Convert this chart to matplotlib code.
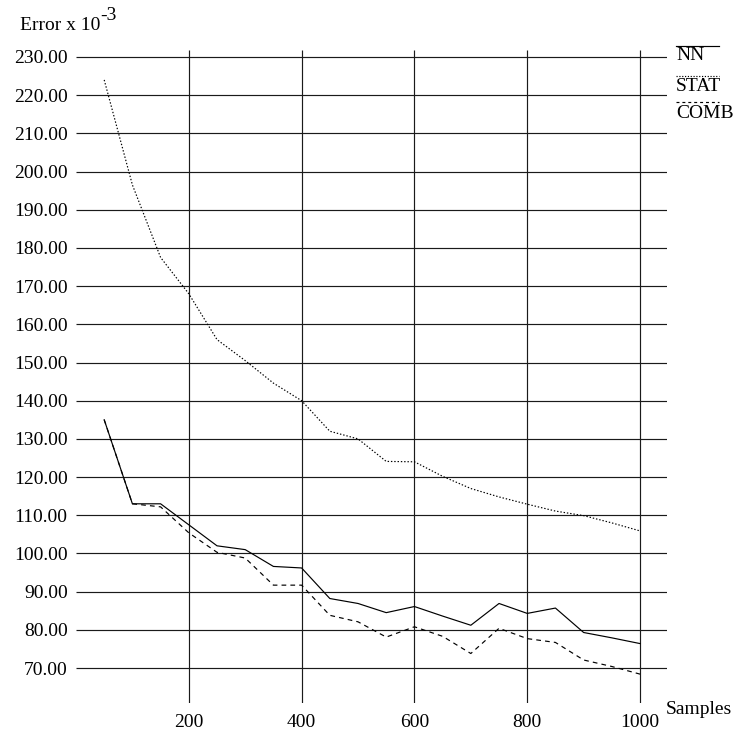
import matplotlib
matplotlib.use("Agg")
import matplotlib.pyplot as plt
from matplotlib.lines import Line2D

plt.rcParams['font.family'] = ['Liberation Serif', 'DejaVu Serif']

# data
samples = [50, 100, 150, 200, 250, 300, 350, 400, 450, 500,
           550, 600, 650, 700, 750, 800, 850, 900, 950, 1000]
nn = [135.0, 113.0, 113.0, 107.5, 102.0, 101.0, 96.6, 96.2, 88.2, 86.9,
      84.5, 86.1, 83.6, 81.2, 86.9, 84.3, 85.7, 79.3, 77.9, 76.4]
stat = [224.0, 196.5, 177.5, 168.0, 156.0, 150.5, 144.6, 140.0, 132.0, 130.0,
        124.1, 124.0, 120.2, 117.0, 114.8, 112.9, 111.1, 109.9, 108.0, 105.9]
comb = [135.0, 113.0, 112.2, 105.4, 100.3, 98.8, 91.7, 91.7, 83.8, 82.1,
        78.1, 80.8, 78.3, 73.8, 80.4, 77.7, 76.7, 72.1, 70.4, 68.4]

yticks = [70, 80, 90, 100, 110, 120, 130, 140, 150, 160,
          170, 180, 190, 200, 210, 220, 230]
xticks = [200, 400, 600, 800, 1000]
legend_names = ['NN', 'STAT', 'COMB']

W = H = 733
fig = plt.figure(figsize=(7.33, 7.33), dpi=100)
ax = fig.add_axes([76 / W, 1 - 703 / H, 591 / W, 653 / H])
ax.set_xlim(0, 1047.8)
ax.set_ylim(60.84, 231.83)

# grid
ax.hlines(yticks, 0, 1047.8, color='#1a1a1a', lw=0.85)
ax.vlines(xticks, 60.84, 231.83, color='#1a1a1a', lw=0.85)

# series
ax.plot(samples, nn, color='black', lw=0.85, ls='-')
ax.plot(samples, stat, color='black', lw=0.85, ls=(0, (1.2, 1.6)))
ax.plot(samples, comb, color='black', lw=0.85, ls=(0, (4, 3.5)))

for s in ax.spines.values():
    s.set_visible(False)
ax.set_yticks(yticks)
ax.set_yticklabels([f'{v:.2f}' for v in yticks], fontsize=14)
ax.set_xticks(xticks)
ax.set_xticklabels([str(v) for v in xticks], fontsize=14)
ax.tick_params(axis='y', length=0, pad=6)
ax.tick_params(axis='x', length=0, pad=8)

# axis titles
t1 = fig.text(20 / W, 1 - 30 / H, 'Error x 10', fontsize=14, va='baseline', ha='left')
ax.annotate('-3', xy=(1.0, 0.6), xycoords=t1, fontsize=14, va='bottom', ha='left')
fig.text(666 / W, 1 - 709 / H, 'Samples', fontsize=14, va='center', ha='left')

# legend: names with line above
styles = ['-', (0, (1.0, 1.4)), (0, (2.5, 2.5))]
text_y = [56, 86.5, 113]
line_y = [46, 75.5, 101.7]
for name, st, ty, ly in zip(legend_names, styles, text_y, line_y):
    fig.text(676 / W, 1 - ty / H, name, fontsize=14, va='center', ha='left')
    fig.add_artist(Line2D([676 / W, 719 / W], [1 - ly / H, 1 - ly / H],
                          color='black', lw=0.85, ls=st, transform=fig.transFigure))

fig.savefig('out.png', dpi=100)
